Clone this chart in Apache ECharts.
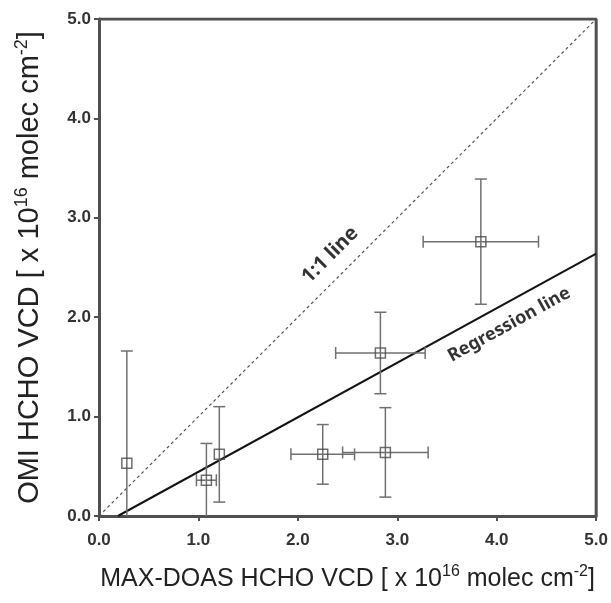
<!DOCTYPE html>
<html>
<head>
<meta charset="utf-8">
<script src="https://cdn.jsdelivr.net/npm/echarts@6/dist/echarts.min.js"></script>
<style>
  html, body { margin: 0; padding: 0; background: #fff; }
  #chart { width: 611px; height: 603px; }
</style>
</head>
<body>
<div id="chart"></div>
<script>
// MAX-DOAS vs OMI HCHO vertical column densities (x 10^16 molec cm^-2)
const maxDoas   = [0.28, 1.08, 1.21, 2.25, 2.88, 2.83, 3.84];
const maxDoasSd = [0.00, 0.10, 0.00, 0.32, 0.43, 0.45, 0.58];
const omi       = [0.53, 0.36, 0.62, 0.62, 0.64, 1.64, 2.76];
const omiSd     = [1.13, 0.37, 0.48, 0.30, 0.45, 0.41, 0.63];

// reference lines (end points)
const oneToOne   = [[0, 0], [5, 5]];
const regression = [[0.19, 0], [5, 2.64]];

// line annotations: [x, y, text, angle]
const lineLabels = [
  [2.33, 2.62, '1:1 line', 45],
  [4.13, 1.92, 'Regression line', 28.7]
];
const lineLabelSizes = [20, 18];

const barColor = '#707070';
const axisColor = '#505050';

const chart = echarts.init(document.getElementById('chart'));

const pointData = maxDoas.map((x, i) => [x, omi[i], maxDoasSd[i], omiSd[i]]);

function errorBars(params, api) {
  const x = api.value(0), y = api.value(1);
  const dx = api.value(2), dy = api.value(3);
  const cap = 6;
  const children = [];
  const style = { stroke: barColor, lineWidth: 1.5, fill: null };
  if (dy > 0) {
    const top = api.coord([x, y + dy]);
    const bot = api.coord([x, y - dy]);
    children.push({ type: 'line', shape: { x1: top[0], y1: top[1], x2: bot[0], y2: bot[1] }, style });
    children.push({ type: 'line', shape: { x1: top[0] - cap, y1: top[1], x2: top[0] + cap, y2: top[1] }, style });
    if (y - dy >= 0) {
      children.push({ type: 'line', shape: { x1: bot[0] - cap, y1: bot[1], x2: bot[0] + cap, y2: bot[1] }, style });
    }
  }
  if (dx > 0) {
    const l = api.coord([x - dx, y]);
    const r = api.coord([x + dx, y]);
    children.push({ type: 'line', shape: { x1: l[0], y1: l[1], x2: r[0], y2: r[1] }, style });
    children.push({ type: 'line', shape: { x1: l[0], y1: l[1] - cap, x2: l[0], y2: l[1] + cap }, style });
    children.push({ type: 'line', shape: { x1: r[0], y1: r[1] - cap, x2: r[0], y2: r[1] + cap }, style });
  }
  return { type: 'group', children };
}

const tickLabel = {
  fontFamily: 'Arial, "Liberation Sans", sans-serif',
  fontWeight: 'bold',
  fontSize: 17,
  color: '#333',
  formatter: v => v.toFixed(1)
};

function nameRich(size) {
  return {
    base: { fontFamily: 'Arial, "Liberation Sans", sans-serif', fontSize: size, color: '#222' },
    sup: {
      fontFamily: 'Arial, "Liberation Sans", sans-serif', fontSize: Math.round(size * 0.62),
      color: '#222', padding: [0, 0, Math.round(size * 0.55), 0]
    }
  };
}

const annotationFont = {
  fontFamily: '"Noto Sans", "Open Sans", sans-serif',
  fontWeight: 'bold',
  color: '#000',
  textBorderWidth: 0
};

chart.setOption({
  animation: false,
  backgroundColor: '#fff',
  grid: { left: 99, right: 14, top: 19, bottom: 87 },
  xAxis: {
    type: 'value', min: 0, max: 5, interval: 1,
    name: '{base|MAX-DOAS HCHO VCD [ x 10}{sup|16}{base| molec cm}{sup|-2}{base|]}',
    nameLocation: 'middle', nameGap: 48,
    nameTextStyle: { rich: nameRich(25) },
    axisLine: { show: true, onZero: false, lineStyle: { color: axisColor, width: 3 } },
    axisTick: { show: true, length: 5, lineStyle: { color: axisColor, width: 2 } },
    axisLabel: Object.assign({ margin: 16 }, tickLabel),
    splitLine: { show: false }
  },
  yAxis: {
    type: 'value', min: 0, max: 5, interval: 1,
    name: '{base|OMI HCHO VCD [ x 10}{sup|16}{base| molec cm}{sup|-2}{base|]}',
    nameLocation: 'middle', nameGap: 52, nameRotate: 90,
    nameTextStyle: { rich: nameRich(29) },
    axisLine: { show: true, onZero: false, lineStyle: { color: axisColor, width: 3 } },
    axisTick: { show: true, length: 5, lineStyle: { color: axisColor, width: 2 } },
    axisLabel: Object.assign({ margin: 8 }, tickLabel),
    splitLine: { show: false }
  },
  series: [
    {
      // frame on top and right
      type: 'line', data: [[0, 5], [5, 5], [5, 0]], symbol: 'none',
      lineStyle: { color: axisColor, width: 3 }, silent: true, z: 1
    },
    {
      type: 'line', data: oneToOne, symbol: 'none',
      lineStyle: { color: '#555', width: 1.2, type: [3, 3] }, z: 2
    },
    {
      type: 'line', data: regression, symbol: 'none',
      lineStyle: { color: '#141414', width: 2 }, z: 2
    },
    {
      type: 'scatter',
      data: lineLabels.map((d, i) => ({
        value: [d[0], d[1]],
        label: Object.assign({
          show: true, position: [0, 0], align: 'center', verticalAlign: 'middle',
          rotate: d[3], formatter: d[2], fontSize: lineLabelSizes[i]
        }, annotationFont)
      })),
      symbolSize: 1,
      itemStyle: { color: 'rgba(0,0,0,0)' },
      silent: true, z: 5
    },
    {
      type: 'custom', data: pointData, renderItem: errorBars, z: 3,
      encode: { x: 0, y: 1 }, clip: true
    },
    {
      type: 'scatter', data: pointData.map(d => [d[0], d[1]]),
      symbol: 'rect', symbolSize: 10,
      itemStyle: { color: 'rgba(255,255,255,0)', borderColor: '#4a4a4a', borderWidth: 1.5 }, z: 4
    }
  ]
});
</script>
</body>
</html>
